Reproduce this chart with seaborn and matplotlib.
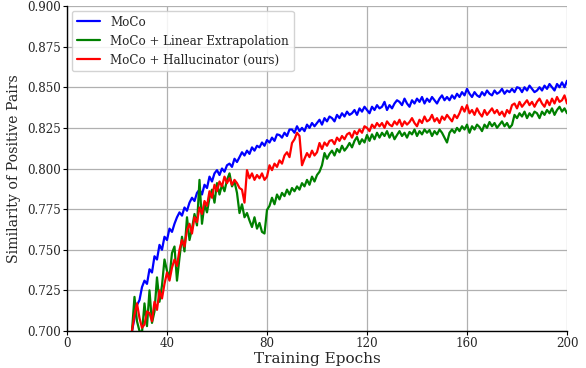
import numpy as np
import pandas as pd
import matplotlib
matplotlib.use("Agg")
import matplotlib.pyplot as plt
import seaborn as sns

epochs = list(range(25, 201))

moco = [
    0.690, 0.700, 0.708, 0.716, 0.719, 0.727, 0.731, 0.729, 0.738, 0.736,
    0.746, 0.744, 0.753, 0.750, 0.758, 0.756, 0.763, 0.761, 0.766, 0.770,
    0.773, 0.771, 0.776, 0.774, 0.779, 0.782, 0.780, 0.785, 0.787, 0.784,
    0.790, 0.788, 0.795, 0.792, 0.797, 0.799, 0.796, 0.800, 0.798, 0.802,
    0.803, 0.801, 0.806, 0.804, 0.807, 0.810, 0.808, 0.811, 0.809, 0.813,
    0.811, 0.814, 0.813, 0.816, 0.814, 0.8175, 0.816, 0.819, 0.817, 0.821,
    0.8206, 0.819, 0.822, 0.820, 0.824, 0.824, 0.822, 0.826, 0.823, 0.825,
    0.823, 0.827, 0.825, 0.828, 0.826, 0.828, 0.830, 0.827, 0.831, 0.829,
    0.832, 0.831, 0.829, 0.833, 0.831, 0.834, 0.832, 0.835, 0.833, 0.834,
    0.836, 0.833, 0.837, 0.835, 0.838, 0.836, 0.834, 0.838, 0.836, 0.839,
    0.837, 0.838, 0.841, 0.836, 0.839, 0.837, 0.840, 0.842, 0.841, 0.839,
    0.843, 0.840, 0.838, 0.842, 0.840, 0.843, 0.841, 0.844, 0.840, 0.843,
    0.841, 0.844, 0.842, 0.840, 0.843, 0.845, 0.842, 0.844, 0.842, 0.845,
    0.843, 0.846, 0.844, 0.847, 0.845, 0.849, 0.846, 0.844, 0.847, 0.845,
    0.844, 0.847, 0.845, 0.848, 0.846, 0.845, 0.848, 0.846, 0.847, 0.849,
    0.846, 0.848, 0.847, 0.849, 0.847, 0.850, 0.8495, 0.847, 0.850, 0.848,
    0.851, 0.849, 0.847, 0.848, 0.850, 0.848, 0.851, 0.849, 0.852, 0.850,
    0.848, 0.852, 0.850, 0.853, 0.850, 0.854,
]

linear = [
    0.690, 0.700, 0.721, 0.706, 0.700, 0.699, 0.717, 0.703, 0.725, 0.705,
    0.712, 0.733, 0.718, 0.728, 0.744, 0.737, 0.733, 0.748, 0.752, 0.731,
    0.745, 0.758, 0.749, 0.770, 0.756, 0.763, 0.772, 0.765, 0.793, 0.766,
    0.778, 0.773, 0.782, 0.787, 0.779, 0.791, 0.784, 0.790, 0.786, 0.793,
    0.797, 0.789, 0.792, 0.785, 0.7726, 0.778, 0.770, 0.7726, 0.768, 0.764,
    0.770, 0.763, 0.7665, 0.761, 0.760, 0.7745, 0.777, 0.782, 0.778, 0.784,
    0.781, 0.785, 0.783, 0.787, 0.784, 0.788, 0.786, 0.789, 0.787, 0.791,
    0.789, 0.793, 0.790, 0.795, 0.792, 0.796, 0.798, 0.802, 0.8095, 0.806,
    0.809, 0.811, 0.808, 0.812, 0.810, 0.814, 0.811, 0.813, 0.8157, 0.813,
    0.817, 0.8194, 0.815, 0.818, 0.816, 0.8206, 0.817, 0.821, 0.818, 0.822,
    0.819, 0.822, 0.820, 0.823, 0.819, 0.822, 0.818, 0.8206, 0.823, 0.820,
    0.822, 0.819, 0.8225, 0.821, 0.824, 0.820, 0.823, 0.821, 0.824, 0.822,
    0.8237, 0.820, 0.823, 0.821, 0.824, 0.822, 0.819, 0.816, 0.822, 0.824,
    0.822, 0.825, 0.823, 0.826, 0.824, 0.827, 0.822, 0.826, 0.824, 0.827,
    0.8255, 0.823, 0.827, 0.825, 0.8286, 0.826, 0.828, 0.825, 0.827, 0.829,
    0.826, 0.828, 0.825, 0.8268, 0.833, 0.831, 0.834, 0.832, 0.835, 0.831,
    0.834, 0.832, 0.835, 0.834, 0.831, 0.835, 0.833, 0.836, 0.834, 0.837,
    0.833, 0.836, 0.838, 0.835, 0.837, 0.834,
]

halluc = [
    0.690, 0.700, 0.710, 0.717, 0.708, 0.702, 0.704, 0.712, 0.711, 0.706,
    0.718, 0.713, 0.725, 0.720, 0.729, 0.736, 0.731, 0.739, 0.744, 0.740,
    0.750, 0.756, 0.752, 0.762, 0.766, 0.760, 0.770, 0.767, 0.776, 0.772,
    0.780, 0.777, 0.786, 0.782, 0.790, 0.786, 0.792, 0.789, 0.795, 0.791,
    0.794, 0.790, 0.793, 0.791, 0.788, 0.787, 0.779, 0.799, 0.794, 0.797,
    0.793, 0.796, 0.794, 0.797, 0.793, 0.795, 0.802, 0.799, 0.803, 0.801,
    0.805, 0.803, 0.808, 0.810, 0.807, 0.8157, 0.818, 0.822, 0.820, 0.802,
    0.806, 0.8095, 0.807, 0.811, 0.808, 0.810, 0.8157, 0.812, 0.816, 0.814,
    0.817, 0.8175, 0.815, 0.819, 0.817, 0.820, 0.818, 0.821, 0.822, 0.819,
    0.823, 0.821, 0.824, 0.822, 0.826, 0.825, 0.823, 0.827, 0.825, 0.828,
    0.826, 0.828, 0.825, 0.829, 0.827, 0.826, 0.829, 0.827, 0.830, 0.826,
    0.829, 0.827, 0.8286, 0.831, 0.828, 0.826, 0.830, 0.828, 0.832, 0.829,
    0.830, 0.833, 0.829, 0.831, 0.828, 0.832, 0.830, 0.833, 0.831, 0.829,
    0.833, 0.831, 0.834, 0.838, 0.835, 0.839, 0.834, 0.836, 0.833, 0.837,
    0.834, 0.832, 0.836, 0.833, 0.835, 0.837, 0.834, 0.836, 0.833, 0.835,
    0.832, 0.836, 0.834, 0.839, 0.840, 0.837, 0.841, 0.838, 0.840, 0.842,
    0.839, 0.841, 0.838, 0.841, 0.843, 0.840, 0.838, 0.842, 0.839, 0.843,
    0.840, 0.844, 0.841, 0.842, 0.845, 0.840,
]

labels = ["MoCo", "MoCo + Linear Extrapolation", "MoCo + Hallucinator (ours)"]
colors = ["blue", "green", "red"]
xticks = [0, 40, 80, 120, 160, 200]
yticks = [0.700, 0.725, 0.750, 0.775, 0.800, 0.825, 0.850, 0.875, 0.900]

sns.set_theme(style="ticks", rc={"axes.grid": True})
plt.rcParams["font.family"] = ["DejaVu Serif"]

df = pd.DataFrame({
    "epoch": epochs * 3,
    "value": moco + linear + halluc,
    "method": [labels[0]] * len(epochs) + [labels[1]] * len(epochs) + [labels[2]] * len(epochs),
})

fig = plt.figure(figsize=(5.86, 3.68), dpi=100)
ax = fig.add_axes([0.1143, 0.1005, 0.8533, 0.8832])

sns.lineplot(data=df, x="epoch", y="value", hue="method", hue_order=labels,
             palette=colors, linewidth=1.6, ax=ax)

ax.set_xlim(0, 200)
ax.set_ylim(0.700, 0.900)
ax.set_xticks(xticks)
ax.set_yticks(yticks)
ax.set_yticklabels([f"{v:.3f}" for v in yticks])
ax.set_xticklabels([str(v) for v in xticks])
ax.tick_params(axis="both", labelsize=8.6, length=3, width=0.8, color="black", pad=1.5)
ax.grid(True, color="#b0b0b0", linewidth=0.9)
for s in ["top", "right"]:
    ax.spines[s].set_visible(False)
for s in ["left", "bottom"]:
    ax.spines[s].set_color("black")
    ax.spines[s].set_linewidth(1.0)

ax.set_xlabel("Training Epochs", fontsize=11, labelpad=1)
ax.set_ylabel("Similarity of Positive Pairs", fontsize=10.2, labelpad=4)

leg = ax.legend(loc="upper left", fontsize=8.6, frameon=True, fancybox=True,
                borderaxespad=0.4, handlelength=2.0)
leg.get_frame().set_edgecolor("#cccccc")
leg.get_frame().set_alpha(0.85)

fig.savefig("out.png", dpi=100)
